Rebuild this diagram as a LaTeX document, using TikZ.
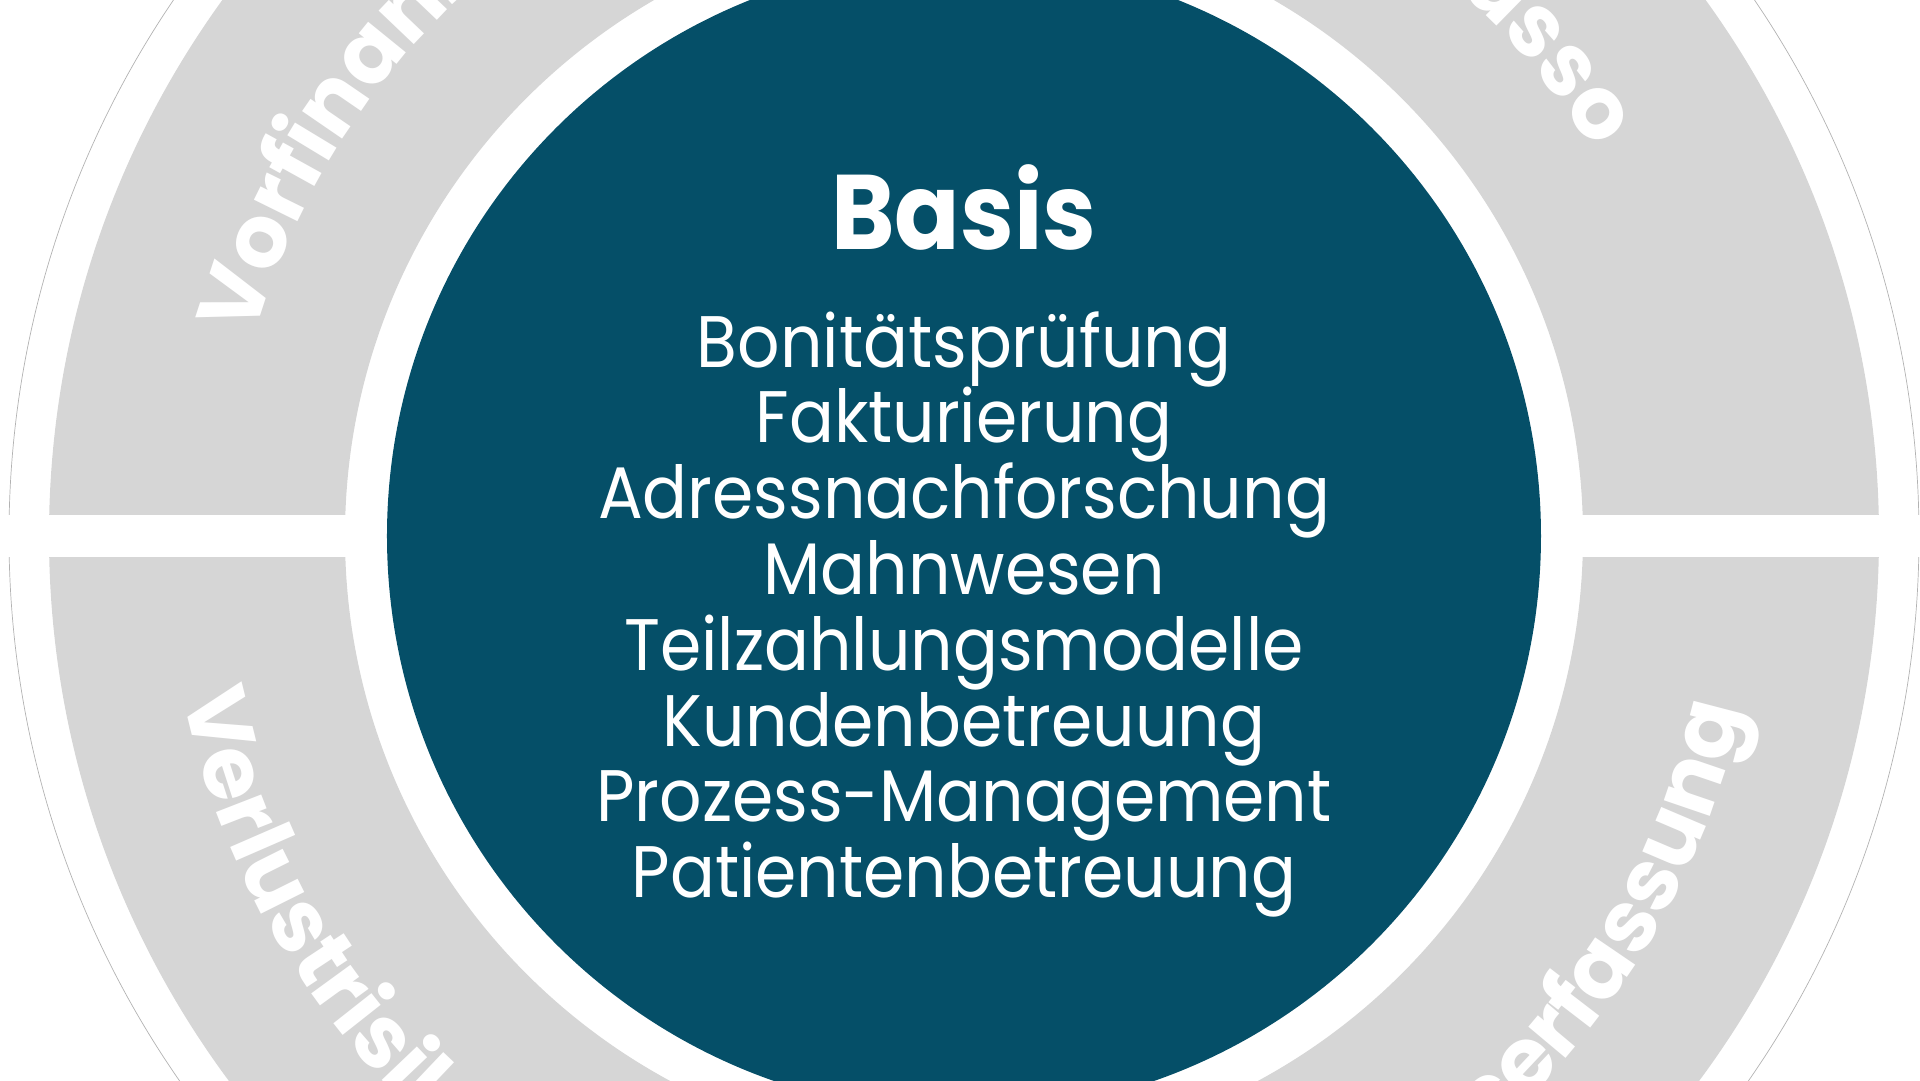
\documentclass[tikz,border=0pt]{standalone}
\usepackage{fontspec}
\setmainfont{Poppins}
\newfontfamily\schmal{Poppins}[FakeStretch=0.91]
\usetikzlibrary{decorations.text}
\definecolor{petrol}{HTML}{054F68}
\definecolor{hellgrau}{HTML}{D6D6D6}
\newcommand\ringschrift{\color{white}\bfseries\fontsize{87}{87}\selectfont}
\tikzset{
  titel/.style={text=white,font=\schmal\bfseries\fontsize{106}{106}\selectfont,inner sep=0pt},
  eintrag/.style={text=white,font=\schmal\fontsize{73}{76}\selectfont,inner sep=0pt},
}
\begin{document}
\begin{tikzpicture}[x=1pt,y=1pt]
\useasboundingbox (-964,-544) rectangle (956,536);
\clip (-964,-544) rectangle (956,536);
% dünner Kreis außen
\draw[gray!60,line width=0.7pt] (0,0) circle (955);
% grauer Ring, durch ein weißes Kreuz in 4 Teile geteilt
\fill[hellgrau,even odd rule] (0,0) circle (915) circle (619);
\fill[white] (-960,-21) rectangle (960,21);
\fill[white] (-21,-960) rectangle (21,960);
% Kreis in der Mitte
\fill[petrol] (0,0) circle (577);
% Beschriftung im Ring
\path[decorate,decoration={text along path,text align=left,
  text={|\ringschrift|Vorfinanzierung}}]
  (164.4:737) arc[start angle=164.4,end angle=60,radius=737];
\path[decorate,decoration={text along path,text align=right,
  text={|\ringschrift|Inkasso}}]
  (120:737) arc[start angle=120,end angle=31.5,radius=737];
\path[decorate,decoration={text along path,text align=left,
  text={|\ringschrift|Verlustrisiko}}]
  (191.5:797) arc[start angle=191.5,end angle=300,radius=797];
\path[decorate,decoration={text along path,text align=right,
  text={|\ringschrift|Leistungserfassung}}]
  (240:797) arc[start angle=240,end angle=347.5,radius=797];
% Texte in der Mitte
\node[titel,anchor=base] (basis) at (0,287) {Basis};
\foreach \txt [count=\i] in {Bonitätsprüfung,Fakturierung,Adressnachforschung,Mahnwesen,Teilzahlungsmodelle,Kundenbetreuung,Prozess-Management,Patientenbetreuung}
  \node[eintrag,anchor=base] (e\i) at (0,{169-(\i-1)*75.8}) {\txt};
\end{tikzpicture}
\end{document}
